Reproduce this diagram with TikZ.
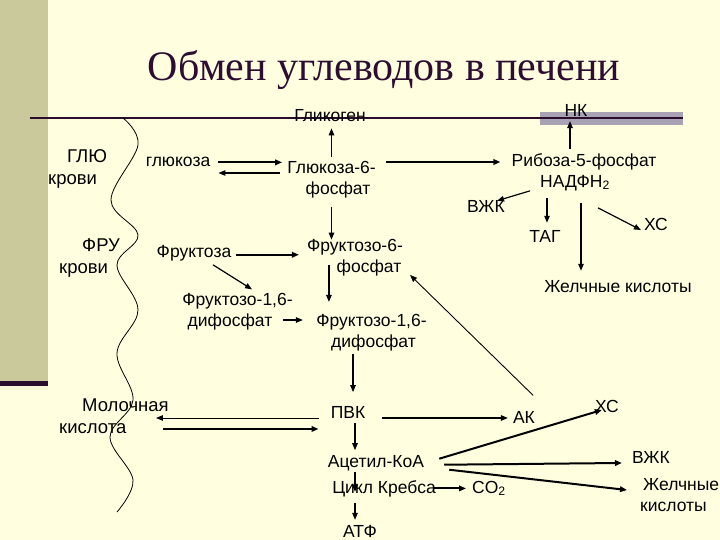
\documentclass[tikz,border=0pt]{standalone}
\usepackage{fontspec}
\setmainfont{Liberation Sans}
\newfontfamily\titlefont{Liberation Serif}
\usetikzlibrary{arrows.meta,calc}
\definecolor{bg}{HTML}{FFFFE0}
\definecolor{olivebar}{HTML}{C9C99B}
\definecolor{darkline}{HTML}{2A0C2C}
\definecolor{nkbar}{HTML}{A8A2B4}
\definecolor{titlec}{HTML}{2E0D33}
\begin{document}
\begin{tikzpicture}[x=1pt,y=-1pt,
  txt/.style={inner sep=0pt,font=\fontsize{17.5}{21}\selectfont},
  lbl/.style={inner sep=0pt,font=\fontsize{18.5}{22.5}\selectfont},
  arr/.style={line width=1.2pt,-{Triangle[length=7pt,width=5.5pt]}},
  tarr/.style={line width=2pt,-{Triangle[length=7pt,width=5.5pt]}},
  narr/.style={line width=0.9pt,-{Triangle[length=7pt,width=5.5pt]}}]
\useasboundingbox (0,0) rectangle (720,540);
\fill[bg] (0,0) rectangle (720,540);
\fill[olivebar] (0,0) rectangle (48,381);
\fill[darkline] (0,381) rectangle (48,386);
\fill[bg!85!olivebar] (0,386) rectangle (48,390);
% title
\node[inner sep=0pt,anchor=base,font=\titlefont\fontsize{42}{48}\selectfont,text=titlec] (title) at (384,81) {Обмен углеводов в печени};
% membrane lines
\fill[nkbar] (540,112) rectangle (683,125);
\draw[line width=2.5pt,darkline] (30,118) -- (683,118);
\draw[line width=0.8pt] plot[smooth,tension=0.6] coordinates {(123,118) (138,145) (111,200) (138,235) (117,265) (138,310) (117,353) (133,400) (110,437) (133,480) (117,512)};
% nodes
\node[txt,anchor=base] (glyc) at (330,122) {Гликоген};
\node[txt,anchor=base] (nk) at (576,117) {НК};
\node[lbl,align=left,anchor=west] (glu) at (48,169) {\hspace*{19pt}ГЛЮ\\крови};
\node[lbl,align=left,anchor=west] (fru) at (59,258) {\hspace*{23pt}ФРУ\\крови};
\node[lbl,align=left,anchor=west] (milk) at (59,416) {\hspace*{23pt}Молочная\\кислота};
\node[txt,anchor=base] (gluc) at (178,167) {глюкоза};
\node[txt,align=center] (g6p) at (331.5,180) {Глюкоза-6-\\\hspace*{13pt}фосфат};
\node[txt,align=center] (ribose) at (584,172) {Рибоза-5-фосфат\\НАДФН\textsubscript{2}\hspace*{18pt}};
\node[txt,anchor=base] (vzhk1) at (486,212) {ВЖК};
\node[txt,anchor=base] (tag) at (545,243) {ТАГ};
\node[txt,anchor=base] (xc1) at (656,230) {ХС};
\node[txt,anchor=base] (fruct) at (194,258) {Фруктоза};
\node[txt,align=center] (f6p) at (355,258) {Фруктозо-6-\\\hspace*{28pt}фосфат};
\node[txt,anchor=base] (bile1) at (618,292) {Желчные кислоты};
\node[txt,align=center] (f16a) at (237.5,312) {Фруктозо-1,6-\\дифосфат\hspace*{15pt}};
\node[txt,align=center] (f16b) at (371.5,332.5) {Фруктозо-1,6-\\\hspace*{4pt}дифосфат};
\node[txt,anchor=base] (pvk) at (348,418) {ПВК};
\node[txt,anchor=base] (ak) at (524,423) {АК};
\node[txt,anchor=base] (xc2) at (607,412) {ХС};
\node[txt,anchor=base] (acoa) at (376,467) {Ацетил-КоА};
\node[txt,anchor=base] (vzhk2) at (651,463) {ВЖК};
\node[txt,align=left,anchor=west] (bile2) at (640,495) {\hspace*{3pt}Желчные\\кислоты};
\node[txt,anchor=base] (krebs) at (384,493) {Цикл Кребса};
\node[txt,anchor=base] (co2) at (489,493) {CO\textsubscript{2}};
\node[txt,anchor=base] (atf) at (360,537) {АТФ};
% connectors
\draw[tarr] ($(gluc.east)+(8,0)$) -- ($(gluc.east -| g6p.west)+(-5,0)$);
\draw[arr] ($(g6p.west)+(-7,-7)$) -- ($(g6p.west -| gluc.east)+(8,-7)$);
\draw[arr] ($(g6p.north)+(0,-4)$) -- ++(0,-29);
\draw[arr] ($(g6p.south)+(0,8)$) -- ++(0,33);
\draw[tarr] ($(g6p.east |- ribose.west)+(10,-10)$) -- ($(ribose.west)+(-11,-10)$);
\draw[arr] ($(ribose.north)+(-14,-4)$) -- ++(0,-28);
\draw[arr] ($(ribose.south)+(-54,0)$) -- ($(vzhk1.north east)+(-8,1)$);
\draw[arr] ($(ribose.south)+(-37,7)$) -- ($(tag.north)+(2,-8)$);
\draw[arr] ($(ribose.south)+(-3,12)$) -- ($(bile1.north)+(-37,-9)$);
\draw[arr] ($(ribose.south)+(14,17)$) -- ($(xc1.west)+(-3,6)$);
\draw[tarr] ($(fruct.east)+(5,1)$) -- ($(f6p.west |- fruct.east)+(-8,1)$);
\draw[arr] ($(fruct.south)+(19,3)$) -- ($(f16a.north)+(14.5,-4)$);
\draw[arr] ($(f16a.east)+(-10,8)$) -- ++(20,0);
\draw[arr] ($(f6p.south west)+(22,-11.7)$) -- ++(0,37);
\draw[arr] ($(f16b.south)+(-18.5,3)$) -- ++(0,38);
\draw[narr] ($(ak.north east)+(-2,-15.4)$) -- ($(f6p.east)+(7,17)$);
\draw[narr] ($(pvk.west)+(-12,6)$) -- ($(milk.east |- pvk.west)+(-13,6)$);
\draw[tarr] ($(milk.east |- pvk.west)+(-6,17)$) -- ($(pvk.west)+(-12,17)$);
\draw[arr] ($(pvk.east)+(17,6)$) -- ($(ak.west)+(-5,1)$);
\draw[arr] ($(pvk.south)+(7,5)$) -- ++(0,27);
\draw[arr] ($(acoa.south)+(-21,1)$) -- ++(0,20);
\draw[arr] ($(krebs.south)+(-29,6)$) -- ++(0,17);
\draw[tarr] ($(krebs.east)+(-2,0)$) -- ($(co2.west |- krebs.east)+(-6,0)$);
\draw[tarr] ($(acoa.east)+(15,-4)$) -- ($(xc2.west)+(7,4)$);
\draw[tarr] ($(acoa.east)+(20,2)$) -- ($(vzhk2.west)+(-10,6)$);
\draw[tarr] ($(acoa.east)+(25,7)$) -- ($(bile2.west)+(-13,-5)$);
\end{tikzpicture}
\end{document}
